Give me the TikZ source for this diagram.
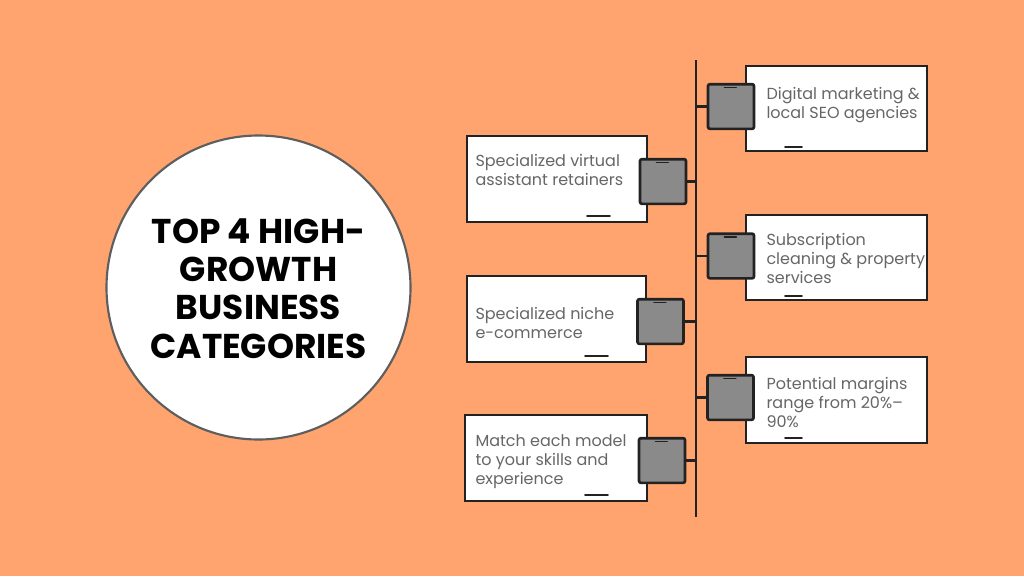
\documentclass[tikz,border=0pt]{standalone}
\usepackage{fontspec}
\setmainfont{Poppins}
\definecolor{bgorange}{HTML}{FFA46F}
\definecolor{ringgray}{HTML}{5E5E5E}
\definecolor{tilegray}{HTML}{8A8A8A}
\definecolor{inkdark}{HTML}{222222}
\definecolor{txtgray}{HTML}{666666}

\tikzset{every picture/.style={line width=0.75pt}}
\tikzset{
  card/.style={draw=inkdark, fill=white, line width=1.6pt},
  tile/.style={draw=inkdark, fill=tilegray, line width=2pt, rounded corners=1.5pt,
    minimum width=34.5pt, minimum height=33.5pt, inner sep=0pt},
  spine/.style={draw=inkdark, line width=1.8pt},
  link/.style={draw=inkdark, line width=1.6pt},
  scrib/.style={draw=inkdark, line width=1.3pt, line cap=round},
  itemtext/.style={anchor=north west, inner sep=0pt, align=left, text=txtgray,
    font=\fontsize{12}{14.25}\selectfont},
}

\begin{document}
\begin{tikzpicture}[x=0.75pt,y=0.75pt,yscale=-1,xscale=1]
        \useasboundingbox (0,0) rectangle (1024,576);
        \fill[bgorange] (0,0) rectangle (1024,576);

        % title disc
        \draw[draw=ringgray, fill=white, line width=1.6pt] (258.5,287.5) circle (152);
        \node (title) at (258.5,218) [anchor=north, inner sep=0pt, align=center,
          font=\bfseries\fontsize{25.8}{28.75}\selectfont] {TOP 4 HIGH-\\GROWTH\\BUSINESS\\CATEGORIES};

        % timeline
        \coordinate (sptop) at (696,60);
        \coordinate (spbot) at (696,517);
        \draw[spine] (sptop) -- (spbot);

        % cards
        \draw[card] (746,66) rectangle (927,151);
        \draw[card] (746,215) rectangle (927,300);
        \draw[card] (746,357) rectangle (927,443);
        \draw[card] (467,136) rectangle (647,222);
        \draw[card] (467,276) rectangle (646,362);
        \draw[card] (465,415) rectangle (647,501);

        \draw[scrib] (785,147) -- (802,147);
        \draw[scrib] (785,296) -- (802,296);
        \draw[scrib] (785,438) -- (802,438);
        \draw[scrib] (587,216) -- (610,216);
        \draw[scrib] (585,356) -- (608,356);
        \draw[scrib] (585,495) -- (608,495);

        % tiles
        \node[tile] (s1) at (731,106.5) {};
        \node[tile] (s2) at (731,256) {};
        \node[tile] (s3) at (730.5,397.5) {};
        \node[tile] (sa) at (663,181.5) {};
        \node[tile] (sb) at (660.5,321.5) {};
        \node[tile] (sc) at (662,460.5) {};

        \foreach \s in {s1,s2,s3,sa,sb,sc}
          \draw[scrib, line width=1pt] ([xshift=-5pt,yshift=3.5pt]\s.north) -- ++(12,0);

        \draw[link] (s1.west) -- (s1.west -| sptop);
        \draw[link] (s2.west) -- (s2.west -| sptop);
        \draw[link] (s3.west) -- (s3.west -| sptop);
        \draw[link] (sa.east) -- (sa.east -| sptop);
        \draw[link] (sb.east) -- (sb.east -| sptop);
        \draw[link] (sc.east) -- (sc.east -| sptop);

        % texts
        \node[itemtext] (t1) at (766,87) {Digital marketing \&\\local SEO agencies};
        \node[itemtext] (t2) at (766,233) {Subscription\\cleaning \& property\\services};
        \node[itemtext] (t3) at (766,377) {Potential margins\\range from 20\%–\\90\%};
        \node[itemtext] (ta) at (475,154) {Specialized virtual\\assistant retainers};
        \node[itemtext] (tb) at (475,307) {Specialized niche\\e-commerce};
        \node[itemtext] (tc) at (475,434) {Match each model\\to your skills and\\experience};
    \end{tikzpicture}
\end{document}
